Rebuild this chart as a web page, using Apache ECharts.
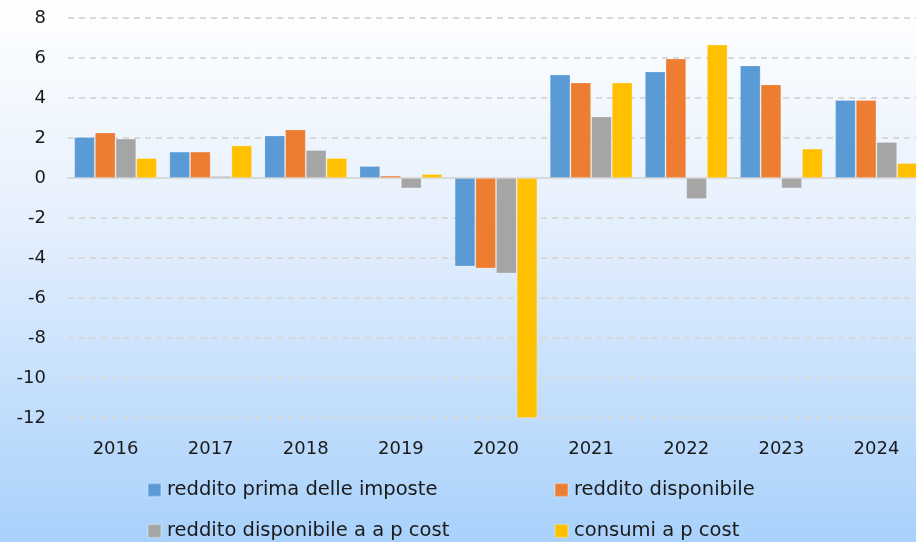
<!DOCTYPE html>
<html lang="it">
<head>
    <meta charset="UTF-8">
    <title>Redditi e consumi</title>
    <style>
        * {
            margin: 0;
            padding: 0;
        }

        html, body {
            width: 100%;
            height: 100%;
            overflow: hidden;
        }

        /* il grafico originale è tagliato a destra: contenitore più largo della finestra */
        #chart {
            width: 924px;
            height: 542px;
            background: linear-gradient(to bottom, #ffffff 0%, #e6f0fd 40%, #a8d1fb 100%);
        }
    </style>
    <script src="https://cdn.jsdelivr.net/npm/echarts@6/dist/echarts.min.js"></script>
</head>
<body>
<div id="chart"></div>

<script>
    const years = ['2016', '2017', '2018', '2019', '2020', '2021', '2022', '2023', '2024']
    const seriesNames = [
        'reddito prima delle imposte',
        'reddito disponibile',
        'reddito disponibile a a p cost',
        'consumi a p cost'
    ]
    const redditoPrima = [2.05, 1.32, 2.13, 0.6, -4.43, 5.17, 5.33, 5.63, 3.9]
    const redditoDisp = [2.28, 1.32, 2.43, 0.12, -4.52, 4.77, 5.97, 4.68, 3.9]
    const redditoDispCost = [1.97, 0.1, 1.4, -0.52, -4.77, 3.08, -1.05, -0.52, 1.8]
    const consumiCost = [1.0, 1.63, 1.0, 0.2, -12.0, 4.77, 6.68, 1.47, 0.75]
    const colors = ['#5b9bd5', '#ed7d31', '#a5a5a5', '#ffc000']

    const font = 'DejaVu Sans'
    const values = [redditoPrima, redditoDisp, redditoDispCost, consumiCost]

    // legenda su due righe, due colonne
    const legendPos = [
        {left: 147, top: 480},
        {left: 554, top: 480},
        {left: 147, top: 521},
        {left: 554, top: 521}
    ]

    let chart = echarts.init(document.getElementById('chart'))
    let option = {
        color: colors,
        animation: false,
        grid: {
            left: 68,
            right: 0,
            top: 18,
            bottom: 124
        },
        legend: legendPos.map((p, i) => ({
            data: [seriesNames[i]],
            left: p.left,
            top: p.top,
            icon: 'rect',
            itemWidth: 13,
            itemHeight: 13,
            itemGap: 6,
            padding: 0,
            textStyle: {
                fontFamily: font,
                fontSize: 19.5,
                color: '#1a1a1a',
                padding: [0, 0, 0, 1]
            }
        })),
        xAxis: [
            {
                type: 'category',
                data: years,
                position: 'bottom',
                axisLine: {show: false, onZero: false},
                axisTick: {show: false},
                axisLabel: {
                    margin: 22,
                    fontFamily: font,
                    fontSize: 18,
                    color: '#1a1a1a'
                }
            },
            {
                type: 'category',
                data: years,
                position: 'top',
                axisLine: {show: true, onZero: true, lineStyle: {color: '#d9d9d9', width: 2}},
                axisTick: {show: false},
                axisLabel: {show: false}
            }
        ],
        yAxis: {
            type: 'value',
            min: -12,
            max: 8,
            interval: 2,
            axisLine: {show: false},
            axisTick: {show: false},
            axisLabel: {
                margin: 22,
                fontFamily: font,
                fontSize: 18,
                color: '#1a1a1a'
            },
            splitLine: {
                lineStyle: {color: '#d9d9d9', type: [6, 5], width: 2}
            }
        },
        series: seriesNames.map((name, i) => ({
            name: name,
            type: 'bar',
            data: values[i],
            barGap: '0%',
            barCategoryGap: '13%',
            itemStyle: {
                borderColor: 'rgba(255,255,255,0.2)',
                borderWidth: 1
            }
        }))
    }
    chart.setOption(option, true)
</script>
</body>
</html>
